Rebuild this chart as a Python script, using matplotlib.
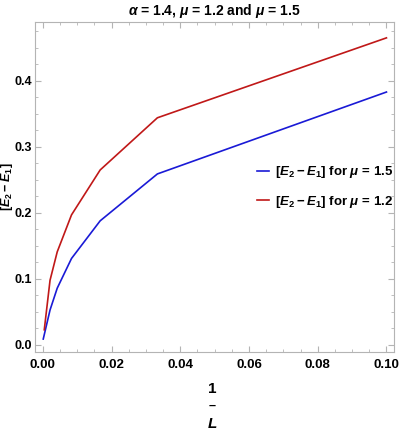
import numpy as np
import matplotlib
matplotlib.use('Agg')
import matplotlib.pyplot as plt
from matplotlib.ticker import MultipleLocator, FormatStrFormatter

# data (x = 1/L)
x_mu15 = [0.0001, 0.00208, 0.00417, 0.00833, 0.01667, 0.03333, 0.1]
y_mu15 = [0.009, 0.053, 0.086, 0.131, 0.188, 0.259, 0.383]
x_mu12 = [0.0004, 0.00208, 0.00417, 0.00833, 0.01667, 0.03333, 0.1]
y_mu12 = [0.023, 0.098, 0.141, 0.197, 0.265, 0.344, 0.465]

lbl15 = r'$[E_2 - E_1]$ for $\mu$ = 1.5'
lbl12 = r'$[E_2 - E_1]$ for $\mu$ = 1.2'
title = r'$\alpha$ = 1.4, $\mu$ = 1.2 and $\mu$ = 1.5'

plt.rcParams['font.family'] = ['Liberation Sans', 'DejaVu Sans']
plt.rcParams['font.weight'] = 'bold'
plt.rcParams['mathtext.fontset'] = 'custom'
plt.rcParams['mathtext.rm'] = 'Liberation Sans:bold'
plt.rcParams['mathtext.it'] = 'Liberation Sans:italic:bold'
plt.rcParams['mathtext.bf'] = 'Liberation Sans:bold'

fig = plt.figure(figsize=(3.99, 4.36), dpi=100)
ax = fig.add_axes([0.0877, 0.1927, 0.8998, 0.7568])

ax.plot(x_mu15, y_mu15, color='#1a1ad6', lw=1.2, label=lbl15)
ax.plot(x_mu12, y_mu12, color='#c01818', lw=1.2, label=lbl12)

ax.set_xlim(-0.0023, 0.1022)
ax.set_ylim(-0.0106, 0.489)

ax.xaxis.set_major_locator(MultipleLocator(0.02))
ax.xaxis.set_minor_locator(MultipleLocator(0.005))
ax.yaxis.set_major_locator(MultipleLocator(0.1))
ax.yaxis.set_minor_locator(MultipleLocator(0.025))
ax.xaxis.set_major_formatter(FormatStrFormatter('%.2f'))
ax.yaxis.set_major_formatter(FormatStrFormatter('%.1f'))

for s in ax.spines.values():
    s.set_color('#b4b4b4')
ax.tick_params(which='both', direction='in', color='#b4b4b4', top=True, right=True)
ax.tick_params(axis='x', pad=5, labelsize=9.5)
ax.tick_params(axis='y', pad=2, labelsize=9)
ax.tick_params(which='major', length=4, width=0.8)
ax.tick_params(which='minor', length=2.5, width=0.6)

ax.set_title(title, fontsize=10, fontweight='bold', pad=5)
ax.set_ylabel(r'$[E_2 - E_1]$', fontsize=9, va='center')
ax.yaxis.set_label_coords(-0.078, 0.5)

# stacked 1/L label
cx = 212 / 399
fig.text(cx, 1 - 389 / 436, '1', ha='center', va='center', fontsize=11, fontweight='bold')
fig.text(cx, 1 - 406 / 436, '\u2013', ha='center', va='center', fontsize=9, fontweight='bold')
fig.text(cx, 1 - 424 / 436, r'$L$', ha='center', va='center', fontsize=11)

ax.legend(loc='center left', bbox_to_anchor=(0.585, 0.5), frameon=False, fontsize=9.5,
          handlelength=0.9, handletextpad=0.5, labelspacing=1.0)

fig.savefig('out.png', dpi=100)
